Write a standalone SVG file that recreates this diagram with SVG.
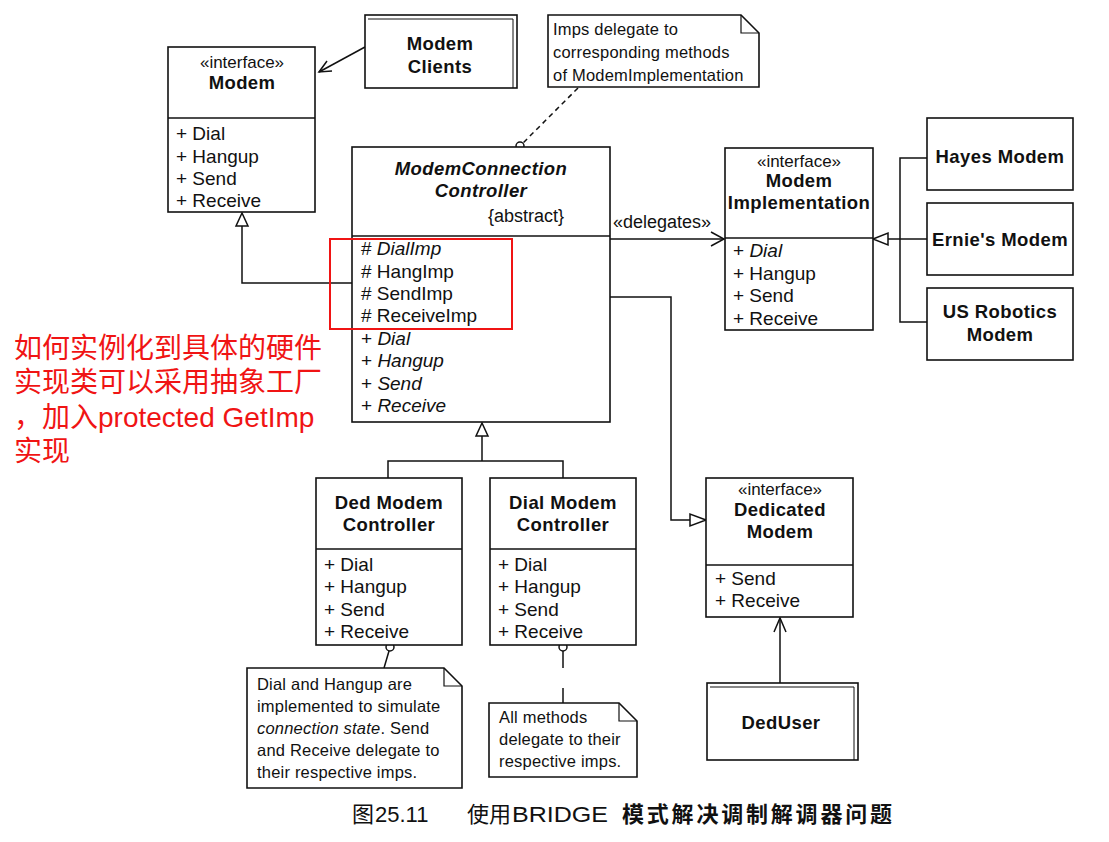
<svg xmlns="http://www.w3.org/2000/svg" width="1109" height="842" viewBox="0 0 1109 842">
<style>
.box{fill:#fff;stroke:#111;stroke-width:1.6}
.ln{fill:none;stroke:#111;stroke-width:1.5}
.dash{fill:none;stroke:#111;stroke-width:1.5;stroke-dasharray:5 4}
.tri{fill:#fff;stroke:#111;stroke-width:1.5}
text{font-family:"Liberation Sans",Arial,sans-serif;fill:#111}
.t{font-size:18.5px;font-weight:bold;text-anchor:middle;letter-spacing:0.4px}
.st{font-size:17px;text-anchor:middle}
.a{font-size:19px}
.i{font-style:italic}
.n{font-size:16.5px;letter-spacing:0.2px}
.red{font-family:"Liberation Sans","Noto Sans CJK SC",sans-serif;font-size:28px;fill:#f01414}
.cap{font-family:"Liberation Sans","Noto Sans CJK SC",sans-serif;font-size:22px;fill:#111}
</style>
<rect width="1109" height="842" fill="#fff"/>

<g id="connectors">
  <!-- Modem Clients -> Modem -->
  <line class="ln" x1="365" y1="47" x2="319" y2="72"/>
  <polyline class="ln" points="327,61 319,72 332,71"/>
  <!-- Controller generalizes Modem -->
  <polyline class="ln" points="352,283 242,283 242,226"/>
  <polygon class="tri" points="242,213 236,226 248,226"/>
  <!-- note to controller -->
  <line class="dash" x1="578" y1="88" x2="523" y2="143"/>
  <circle cx="520" cy="146" r="4" fill="#fff" stroke="#111" stroke-width="1.5"/>
  <!-- delegates -->
  <line class="ln" x1="610" y1="239" x2="724" y2="239"/>
  <polyline class="ln" points="711,232 724,239 711,246"/>
  <!-- implementations generalize ModemImplementation -->
  <polygon class="tri" points="873,239 888,233 888,245"/>
  <line class="ln" x1="888" y1="239" x2="927" y2="239"/>
  <polyline class="ln" points="927,158 900,158 900,322 927,322"/>
  <!-- Controller -> Dedicated Modem -->
  <polyline class="ln" points="610,297 671,297 671,520 690,520"/>
  <polygon class="tri" points="706,520 690,514 690,526"/>
  <!-- sub controllers -->
  <polygon class="tri" points="482,423 476,436 488,436"/>
  <polyline class="ln" points="482,436 482,461"/>
  <polyline class="ln" points="388,478 388,461 563,461 563,478"/>
  <!-- note connectors -->
  <circle cx="390" cy="647" r="4" fill="#fff" stroke="#111" stroke-width="1.5"/>
  <line class="ln" x1="389" y1="651" x2="384" y2="668"/>
  <circle cx="563" cy="647" r="4" fill="#fff" stroke="#111" stroke-width="1.5"/>
  <line class="ln" x1="563" y1="651" x2="563" y2="668"/>
  <line class="ln" x1="563" y1="688" x2="563" y2="703"/>
  <!-- DedUser -> Dedicated Modem -->
  <line class="ln" x1="780" y1="683" x2="780" y2="618"/>
  <polyline class="ln" points="774,632 780,618 786,632"/>
  <text x="613" y="228" style="font-size:18px">«delegates»</text>
</g>

<g id="modem">
  <rect class="box" x="168" y="47" width="147" height="165"/>
  <line class="ln" x1="168" y1="118" x2="315" y2="118"/>
  <text class="st" x="242" y="68">«interface»</text>
  <text class="t" x="242" y="89">Modem</text>
  <text class="a" x="176" y="140">+ Dial</text>
  <text class="a" x="176" y="163">+ Hangup</text>
  <text class="a" x="176" y="185">+ Send</text>
  <text class="a" x="176" y="207">+ Receive</text>
</g>

<g id="modem-clients">
  <rect class="box" x="365" y="15" width="152" height="73"/>
  <polyline class="ln" points="368,19 513,19 513,88" style="stroke-width:1"/>
  <text class="t" x="440" y="50">Modem</text>
  <text class="t" x="440" y="73">Clients</text>
</g>

<g id="note-imps">
  <path class="box" d="M548,15 H741 L759,33 V87 H548 Z"/>
  <polyline class="ln" points="741,15 741,33 759,33" style="stroke-width:1.2"/>
  <text class="n" x="553" y="35">Imps delegate to</text>
  <text class="n" x="553" y="58">corresponding methods</text>
  <text class="n" x="553" y="81">of ModemImplementation</text>
</g>

<g id="controller">
  <rect class="box" x="352" y="147" width="258" height="275"/>
  <line class="ln" x1="352" y1="236" x2="610" y2="236"/>
  <text class="t i" x="481" y="175">ModemConnection</text>
  <text class="t i" x="481" y="197">Controller</text>
  <text class="a" x="488" y="222" style="font-size:18px">{abstract}</text>
  <text class="a" x="361" y="255"># <tspan class="i">DialImp</tspan></text>
  <text class="a" x="361" y="278"># HangImp</text>
  <text class="a" x="361" y="300"># SendImp</text>
  <text class="a" x="361" y="322"># ReceiveImp</text>
  <text class="a" x="361" y="345">+ <tspan class="i">Dial</tspan></text>
  <text class="a" x="361" y="367">+ <tspan class="i">Hangup</tspan></text>
  <text class="a" x="361" y="390">+ <tspan class="i">Send</tspan></text>
  <text class="a" x="361" y="412">+ <tspan class="i">Receive</tspan></text>
</g>

<g id="annotation">
  <rect x="330" y="239" width="182" height="90" fill="none" stroke="#f01414" stroke-width="2"/>
  <text class="red" x="14" y="358">如何实例化到具体的硬件</text>
  <text class="red" x="14" y="392">实现类可以采用抽象工厂</text>
  <text class="red" x="14" y="427">，加入protected GetImp</text>
  <text class="red" x="14" y="461">实现</text>
</g>

<g id="modem-implementation">
  <rect class="box" x="725" y="148" width="148" height="182"/>
  <line class="ln" x1="725" y1="238" x2="873" y2="238"/>
  <text class="st" x="799" y="167">«interface»</text>
  <text class="t" x="799" y="187">Modem</text>
  <text class="t" x="799" y="209">Implementation</text>
  <text class="a" x="733" y="257">+ <tspan class="i">Dial</tspan></text>
  <text class="a" x="733" y="280">+ Hangup</text>
  <text class="a" x="733" y="302">+ Send</text>
  <text class="a" x="733" y="325">+ Receive</text>
</g>

<g id="hayes-modem">
  <rect class="box" x="927" y="118" width="146" height="72"/>
  <text class="t" x="1000" y="163">Hayes Modem</text>
</g>
<g id="ernies-modem">
  <rect class="box" x="927" y="203" width="146" height="72"/>
  <text class="t" x="1000" y="246">Ernie's Modem</text>
</g>
<g id="us-robotics-modem">
  <rect class="box" x="927" y="288" width="146" height="72"/>
  <text class="t" x="1000" y="318">US Robotics</text>
  <text class="t" x="1000" y="341">Modem</text>
</g>

<g id="ded-modem-controller">
  <rect class="box" x="316" y="478" width="146" height="167"/>
  <line class="ln" x1="316" y1="549" x2="462" y2="549"/>
  <text class="t" x="389" y="509">Ded Modem</text>
  <text class="t" x="389" y="531">Controller</text>
  <text class="a" x="324" y="571">+ Dial</text>
  <text class="a" x="324" y="593">+ Hangup</text>
  <text class="a" x="324" y="616">+ Send</text>
  <text class="a" x="324" y="638">+ Receive</text>
</g>

<g id="dial-modem-controller">
  <rect class="box" x="490" y="478" width="146" height="167"/>
  <line class="ln" x1="490" y1="549" x2="636" y2="549"/>
  <text class="t" x="563" y="509">Dial Modem</text>
  <text class="t" x="563" y="531">Controller</text>
  <text class="a" x="498" y="571">+ Dial</text>
  <text class="a" x="498" y="593">+ Hangup</text>
  <text class="a" x="498" y="616">+ Send</text>
  <text class="a" x="498" y="638">+ Receive</text>
</g>

<g id="note-ded">
  <path class="box" d="M247,668 H444 L462,686 V788 H247 Z"/>
  <polyline class="ln" points="444,668 444,686 462,686" style="stroke-width:1.2"/>
  <text class="n" x="257" y="690">Dial and Hangup are</text>
  <text class="n" x="257" y="712">implemented to simulate</text>
  <text class="n" x="257" y="734"><tspan class="i">connection state</tspan>. Send</text>
  <text class="n" x="257" y="756">and Receive delegate to</text>
  <text class="n" x="257" y="778">their respective imps.</text>
</g>

<g id="note-dial">
  <path class="box" d="M489,703 H619 L637,721 V777 H489 Z"/>
  <polyline class="ln" points="619,703 619,721 637,721" style="stroke-width:1.2"/>
  <text class="n" x="499" y="723">All methods</text>
  <text class="n" x="499" y="745">delegate to their</text>
  <text class="n" x="499" y="767">respective imps.</text>
</g>

<g id="dedicated-modem">
  <rect class="box" x="706" y="478" width="147" height="139"/>
  <line class="ln" x1="706" y1="565" x2="853" y2="565"/>
  <text class="st" x="780" y="495">«interface»</text>
  <text class="t" x="780" y="516">Dedicated</text>
  <text class="t" x="780" y="538">Modem</text>
  <text class="a" x="715" y="585">+ Send</text>
  <text class="a" x="715" y="607">+ Receive</text>
</g>

<g id="ded-user">
  <rect class="box" x="707" y="683" width="151" height="77"/>
  <polyline class="ln" points="710,687 854,687 854,760" style="stroke-width:1"/>
  <text class="t" x="781" y="729">DedUser</text>
</g>

<g id="caption">
  <text class="cap" x="352" y="822">图</text>
  <text class="cap" x="375" y="822">25.11</text>
  <text class="cap" x="467" y="822">使用</text>
  <text class="cap" x="512" y="822" textLength="96" lengthAdjust="spacingAndGlyphs">BRIDGE</text>
  <text class="cap" x="622" y="822" textLength="270" lengthAdjust="spacing" style="font-weight:bold">模式解决调制解调器问题</text>
</g>
</svg>
